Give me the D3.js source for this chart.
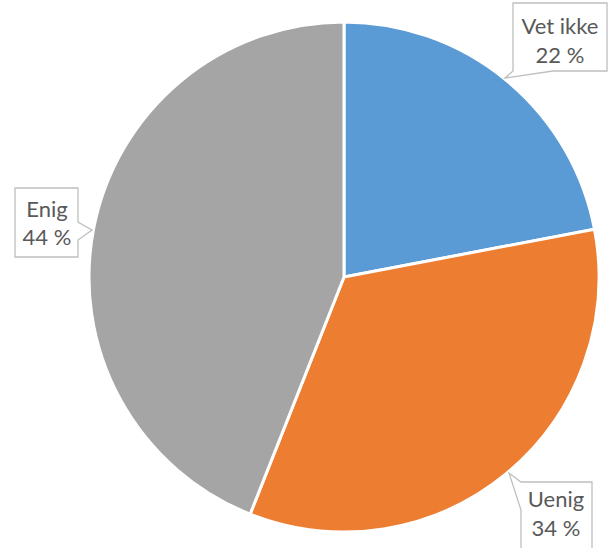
<!DOCTYPE html>
<html>
<head>
<meta charset="utf-8">
<script src="https://cdn.jsdelivr.net/npm/d3@7/dist/d3.min.js"></script>
<style>
  html, body { margin: 0; padding: 0; background: #fff; }
  svg { display: block; }
</style>
</head>
<body>
<svg id="chart" width="608" height="548"></svg>
<script>
// Answer categories and their shares (percent)
const categories = ["Vet ikke", "Uenig", "Enig"];
const shares = [22, 34, 44];
const colors = ["#5B9BD5", "#ED7D31", "#A5A5A5"];

const width = 608, height = 548;
const cx = 344, cy = 277, radius = 255;

const svg = d3.select("#chart");

const data = categories.map((c, i) => ({ name: c, value: shares[i], color: colors[i] }));

const pie = d3.pie().value(d => d.value).sort(null);
const arc = d3.arc().innerRadius(0).outerRadius(radius);

const g = svg.append("g").attr("transform", `translate(${cx},${cy})`);

g.selectAll("path.slice")
  .data(pie(data))
  .join("path")
  .attr("class", "slice")
  .attr("d", arc)
  .attr("fill", d => d.data.color)
  .attr("stroke", "#fff")
  .attr("stroke-width", 3)
  .attr("stroke-linejoin", "round");

// Callout boxes: box rectangle plus the pointer tip and where it leaves the box
const callouts = [
  { x: 513, y: 3, w: 94, h: 68, side: "bottom", base: [513, 553], tip: [505, 78], tx: 560, ty1: 34, ty2: 63 },
  { x: 521, y: 482, w: 71, h: 80, side: "left", base: [482, 510], tip: [509, 473], tx: 556, ty1: 507, ty2: 536 },
  { x: 15, y: 188, w: 63, h: 69, side: "right", base: [222, 240], tip: [92, 230], tx: 47, ty1: 217, ty2: 245 }
];

function calloutPath(c) {
  const x0 = c.x, y0 = c.y, x1 = c.x + c.w, y1 = c.y + c.h;
  const p = d3.path();
  if (c.side === "bottom") {
    p.moveTo(x0, y0); p.lineTo(x1, y0); p.lineTo(x1, y1);
    p.lineTo(c.base[1], y1); p.lineTo(c.tip[0], c.tip[1]); p.lineTo(c.base[0], y1);
    p.lineTo(x0, y1); p.closePath();
  } else if (c.side === "left") {
    p.moveTo(c.base[0] === y0 ? x0 : x0, y0);
    p.lineTo(x1, y0); p.lineTo(x1, y1); p.lineTo(x0, y1);
    p.lineTo(x0, c.base[1]); p.lineTo(c.tip[0], c.tip[1]); p.lineTo(x0, c.base[0]);
    p.closePath();
  } else {
    p.moveTo(x0, y0); p.lineTo(x1, y0);
    p.lineTo(x1, c.base[0]); p.lineTo(c.tip[0], c.tip[1]); p.lineTo(x1, c.base[1]);
    p.lineTo(x1, y1); p.lineTo(x0, y1); p.closePath();
  }
  return p.toString();
}

const labels = svg.append("g")
  .attr("font-family", "Lato, 'Open Sans', sans-serif")
  .attr("font-size", 22)
  .attr("fill", "#595959")
  .attr("text-anchor", "middle");

data.forEach((d, i) => {
  const c = callouts[i];
  labels.append("path")
    .attr("d", calloutPath(c))
    .attr("fill", "#fff")
    .attr("stroke", "#BFBFBF")
    .attr("stroke-width", 1.3);
  labels.append("text").attr("x", c.tx).attr("y", c.ty1).text(d.name);
  labels.append("text").attr("x", c.tx).attr("y", c.ty2).text(`${d.value} %`);
});
</script>
</body>
</html>
